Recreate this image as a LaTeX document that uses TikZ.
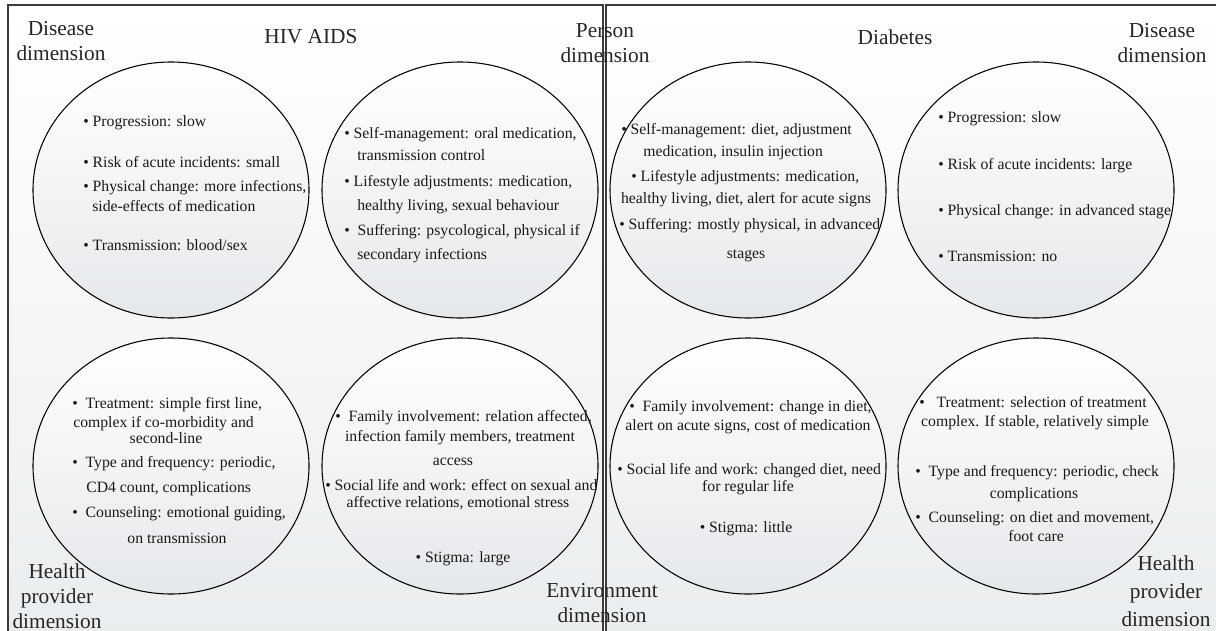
\documentclass[tikz,border=0pt]{standalone}
\usepackage{fontspec}
\setmainfont{Liberation Serif}
\usepackage{tikz}
\usetikzlibrary{positioning}
\definecolor{FrameGray}{RGB}{60,60,60}
\definecolor{PanelGray}{RGB}{234,237,239}
\definecolor{BlobGray}{RGB}{229,232,235}
\tikzset{
  panel/.style={draw=FrameGray, line width=1pt, top color=white, bottom color=PanelGray},
  blob/.style={draw=black, line width=0.8pt, top color=white, bottom color=BlobGray},
  lbl/.style={align=center, inner sep=0pt, text=black!85, font=\fontsize{16}{18.75}\selectfont},
  txt/.style={inner sep=0pt, text height=1.5ex, text depth=0.25ex, text=black!90, font=\fontsize{11.8}{14}\selectfont},
}

\begin{document}
\begin{tikzpicture}[x=0.75pt, y=-0.75pt]
  \useasboundingbox (0,0) rectangle (1216,631);
  \clip (0,0) rectangle (1216,631);
  \fill[white] (0,0) rectangle (1216,631);
  % two panels
  \path[panel] (8,5) rectangle (603,645);
  \path[panel] (606,5) rectangle (1226,645);
  % the eight circles
  \foreach \n/\x/\y in {hd/171/190, hp/460/190, dp/748/190, dd/1036/190,
                        hh/171/466, he/460/466, de/748/466, dh/1036/466} {
    \coordinate (\n) at (\x,\y);
    \path[blob] (\n) ellipse [x radius=138, y radius=128];
  }
  % HIV AIDS, disease
  \foreach \i/\a/\x/\y/\t in {1/west/83/123/{\textbullet\ Progression: slow},
      2/west/83/164/{\textbullet\ Risk of acute incidents: small},
      3/west/83/188/{\textbullet\ Physical change: more infections,},
      4/west/92/208/{side-effects of medication},
      5/west/83/247/{\textbullet\ Transmission: blood/sex}}
    \node[txt, anchor=\a] (hd-\i) at (\x,\y) {\t};
  % HIV AIDS, person
  \foreach \i/\a/\x/\y/\t in {1/west/344/135/{\textbullet\ Self-management: oral medication,},
      2/west/357/157/{transmission control},
      3/west/344/183/{\textbullet\ Lifestyle adjustments: medication,},
      4/west/357/207/{healthy living, sexual behaviour},
      5/west/344/232/{\textbullet\ \ Suffering: psycological, physical if},
      6/west/357/256/{secondary infections}}
    \node[txt, anchor=\a] (hp-\i) at (\x,\y) {\t};
  % Diabetes, person
  \foreach \i/\a/\x/\y/\t in {1/west/621/131/{\textbullet\ Self-management: diet, adjustment},
      2/west/643/153/{medication, insulin injection},
      3/west/631/178/{\textbullet\ Lifestyle adjustments: medication,},
      4/center/746/200/{healthy living, diet, alert for acute signs},
      5/west/619/226/{\textbullet\ Suffering: mostly physical, in advanced},
      6/center/746/255/{stages}}
    \node[txt, anchor=\a] (dp-\i) at (\x,\y) {\t};
  % Diabetes, disease
  \foreach \i/\a/\x/\y/\t in {1/west/938/119/{\textbullet\ Progression: slow},
      2/west/938/166/{\textbullet\ Risk of acute incidents: large},
      3/west/938/212/{\textbullet\ Physical change: in advanced stage},
      4/west/938/258/{\textbullet\ Transmission: no}}
    \node[txt, anchor=\a] (dd-\i) at (\x,\y) {\t};
  % HIV AIDS, health provider
  \foreach \i/\a/\x/\y/\t in {1/west/72/405/{\textbullet\ \ Treatment: simple first line,},
      2/west/73/424/{complex if co-morbidity and},
      3/center/166/440/{second-line},
      4/west/72/464/{\textbullet\ \ Type and frequency: periodic,},
      5/west/86/489/{CD4 count, complications},
      6/west/72/514/{\textbullet\ \ Counseling: emotional guiding,},
      7/center/177/540/{on transmission}}
    \node[txt, anchor=\a] (hh-\i) at (\x,\y) {\t};
  % HIV AIDS, environment
  \foreach \i/\a/\x/\y/\t in {1/west/335/418/{\textbullet\ \ Family involvement: relation affected,},
      2/center/460/438/{infection family members, treatment},
      3/center/453/462/{access},
      4/west/325/487/{\textbullet\ Social life and work: effect on sexual and},
      5/center/458/504/{affective relations, emotional stress},
      6/center/463/559/{\textbullet\ Stigma: large}}
    \node[txt, anchor=\a] (he-\i) at (\x,\y) {\t};
  % Diabetes, environment
  \foreach \i/\a/\x/\y/\t in {1/west/629/408/{\textbullet\ \ Family involvement: change in diet,},
      2/center/748/427/{alert on acute signs, cost of medication},
      3/west/617/471/{\textbullet\ Social life and work: changed diet, need},
      4/center/748/488/{for regular life},
      5/center/746/529/{\textbullet\ Stigma: little}}
    \node[txt, anchor=\a] (de-\i) at (\x,\y) {\t};
  % Diabetes, health provider
  \foreach \i/\a/\x/\y/\t in {1/west/919/404/{\textbullet\ \ \ Treatment: selection of treatment},
      2/center/1035/423/{complex. If stable, relatively simple},
      3/west/915/473/{\textbullet\ \ Type and frequency: periodic, check},
      4/center/1034/495/{complications},
      5/west/915/519/{\textbullet\ \ Counseling: on diet and movement,},
      6/center/1036/538/{foot care}}
    \node[txt, anchor=\a] (dh-\i) at (\x,\y) {\t};
  % dimension labels and titles
  \node[lbl] (hivtitle) at (311,37) {HIV AIDS};
  \node[lbl] (diatitle) at (895,37) {Diabetes};
  \node[lbl] (disleft) at (61,41) {Disease\\dimension};
  \node[lbl] (person) at (605,43) {Person\\dimension};
  \node[lbl] (disright) at (1162,43) {Disease\\dimension};
  \node[lbl] (provleft) at (57,596) {Health\\provider\\dimension};
  \node[lbl] (environ) at (602,603) {Environment\\dimension};
  \node[lbl, font=\fontsize{16}{21}\selectfont] (provright) at (1166,591) {Health\\provider\\dimension};
\end{tikzpicture}
\end{document}
